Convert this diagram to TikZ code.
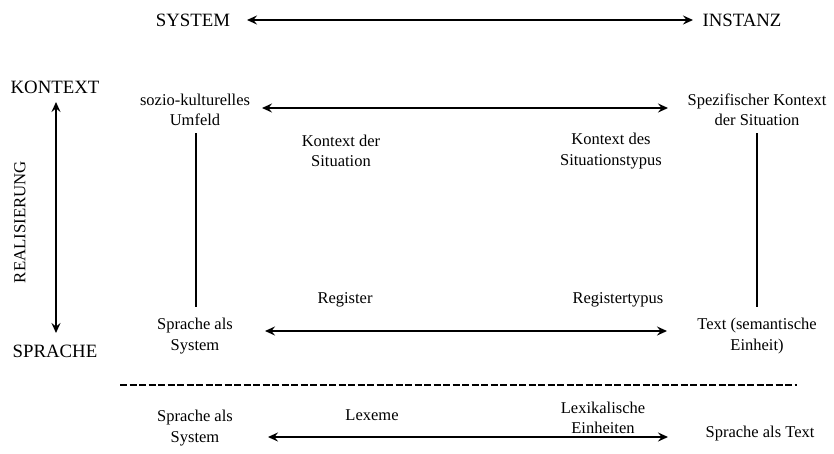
\documentclass[tikz,border=0pt]{standalone}
\usepackage{fontspec}
\setmainfont{Liberation Serif}
\usetikzlibrary{arrows.meta}
\begin{document}
\begin{tikzpicture}[x=1pt,y=-1pt,
  lbl/.style={inner sep=0pt,align=center,font=\fontsize{16.5}{20.5}\selectfont},
  big/.style={inner sep=0pt,font=\fontsize{18.8}{21}\selectfont},
  arr/.style={line width=2pt,{Stealth[length=10pt,width=9pt,inset=3.5pt]}-{Stealth[length=10pt,width=9pt,inset=3.5pt]}},
  vline/.style={line width=2.7pt}]
\useasboundingbox (0,0) rectangle (834,453);
% top
\node[big] (sys) at (193,20) {SYSTEM};
\node[big] (inst) at (742,20) {INSTANZ};
\coordinate (a1) at (247,20);
\coordinate (a2) at (693,20);
\draw[arr] (a1) -- (a2);
% left axis
\node[big] (kon) at (55,87) {KONTEXT};
\node[big] (spr) at (55,351) {SPRACHE};
\node[inner sep=0pt,font=\fontsize{16.8}{20}\selectfont,rotate=90] (real) at (20,222) {REALISIERUNG};
\coordinate (v1) at (56,333);
\coordinate (v2) at (56,102);
\draw[arr] (v1) -- (v2);
% context row
\node[lbl] (soz) at (195,110) {sozio-kulturelles\\Umfeld};
\node[lbl] (spez) at (757,110) {Spezifischer Kontext\\der Situation};
\coordinate (c1) at (262,108);
\coordinate (c2) at (668,108);
\draw[arr] (c1) -- (c2);
\node[lbl] (kds) at (341,151) {Kontext der\\Situation};
\node[lbl] (kdst) at (611,151) {Kontext des\\Situationstypus};
% verticals
\node[lbl] (sas) at (195,336) {Sprache als\\System};
\node[lbl] (txt) at (757,336) {Text (semantische\\Einheit)};
\coordinate (l1) at (196,133);
\coordinate (l2) at (196,307);
\coordinate (r1) at (757,133);
\coordinate (r2) at (757,307);
\draw[vline] (l1) -- (l2);
\draw[vline] (r1) -- (r2);
% language row
\node[lbl] (reg) at (345,300) {Register};
\node[lbl] (regt) at (618,300) {Registertypus};
\coordinate (s1) at (265,331);
\coordinate (s2) at (667,331);
\draw[arr] (s1) -- (s2);
% dashed
\coordinate (d1) at (120,385);
\coordinate (d2) at (797,385);
\draw[line width=2.8pt,dash pattern=on 7pt off 2.5pt] (d1) -- (d2);
% bottom
\node[lbl] (sas2) at (195,428) {Sprache als\\System};
\node[lbl] (lex) at (372,415) {Lexeme};
\node[lbl] (lexe) at (603,418) {Lexikalische\\Einheiten};
\node[lbl] (sat) at (760,434) {Sprache als Text};
\coordinate (b1) at (268,437);
\coordinate (b2) at (668,437);
\draw[arr] (b1) -- (b2);
\end{tikzpicture}
\end{document}
